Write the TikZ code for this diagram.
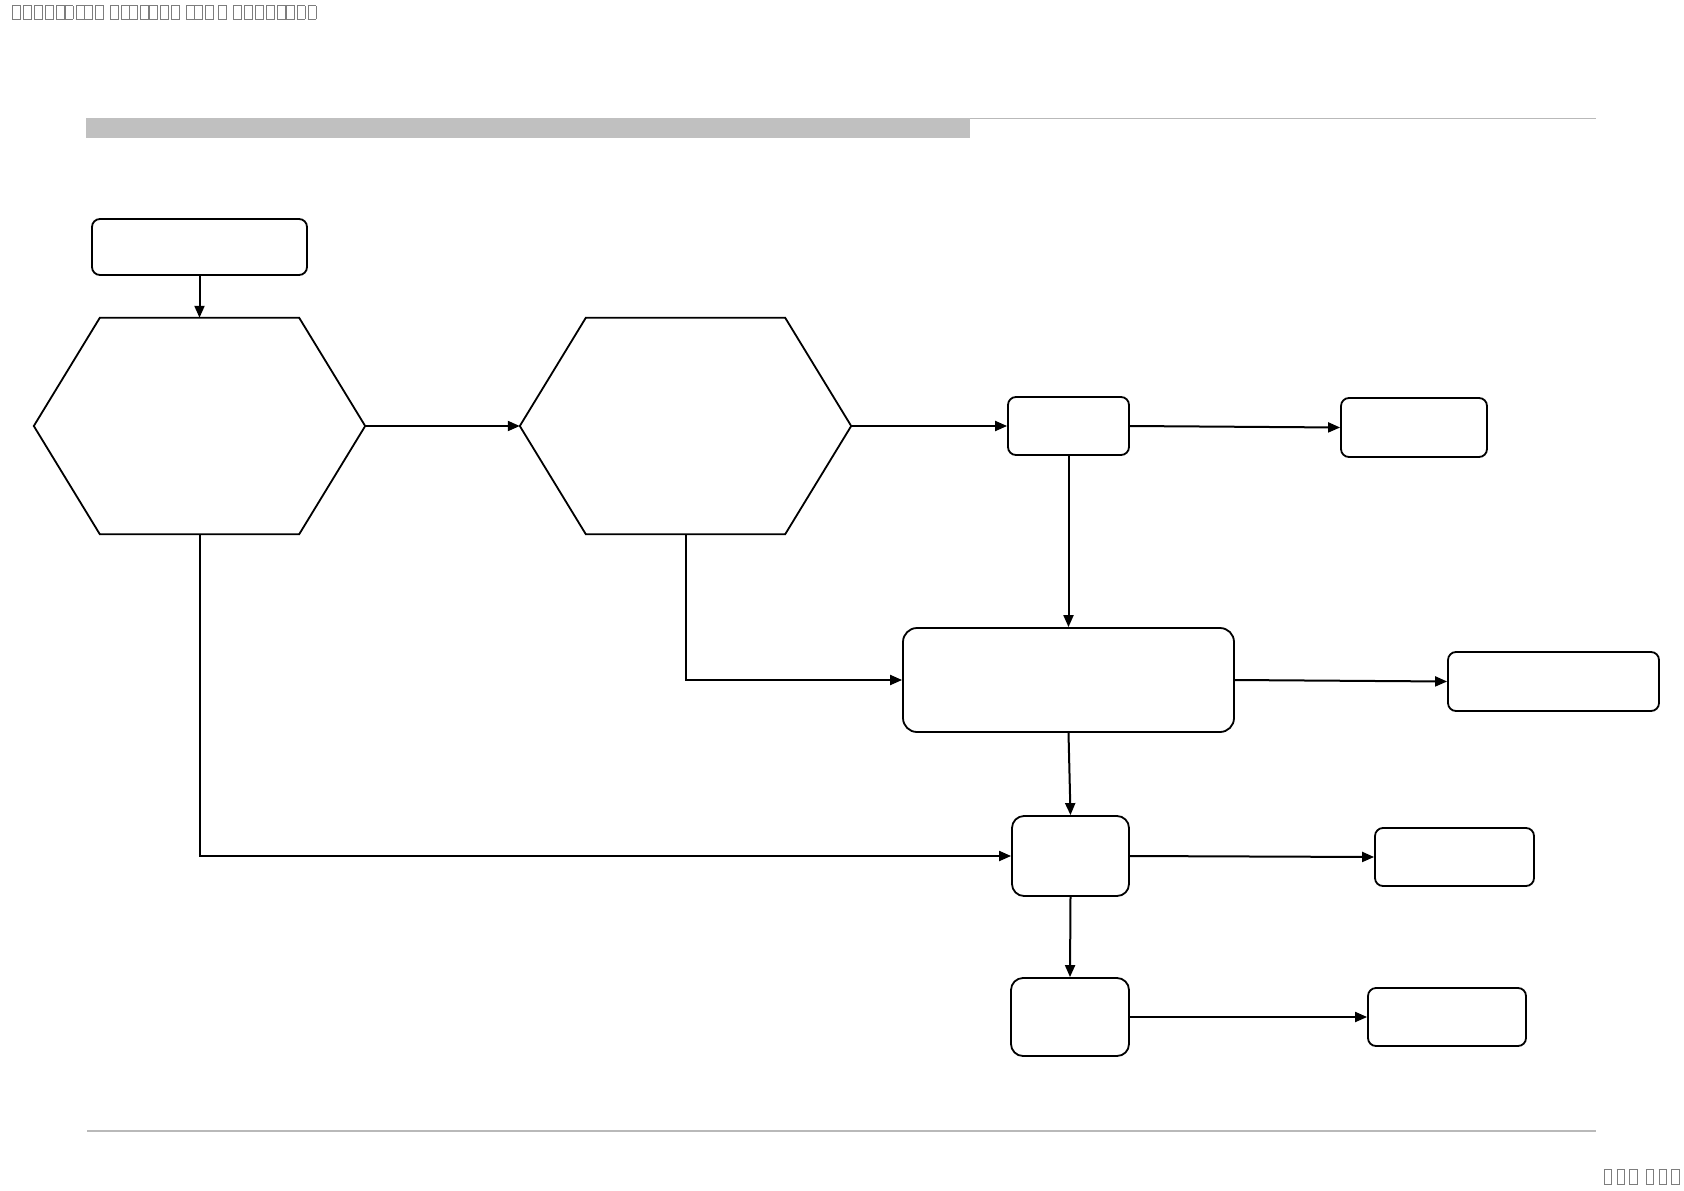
\documentclass[tikz,border=0pt]{standalone}
\usetikzlibrary{arrows.meta,calc}
\definecolor{barg}{RGB}{192,192,192}
\definecolor{lineg}{RGB}{185,185,185}
\definecolor{tofug}{RGB}{125,125,125}
\setlength{\fboxsep}{0pt}
\setlength{\fboxrule}{0.9pt}
\newcommand\tofu{\kern1.1pt\fbox{\rule{0pt}{12.5pt}\rule{7pt}{0pt}}\kern1.1pt}
\newcommand\tofuo{\kern-2.6pt\tofu}
\newcommand\tofub{\kern2.2pt\fbox{\rule{0pt}{13.5pt}\rule{6.5pt}{0pt}}\kern2.2pt}
\tikzset{
  box/.style={draw, line width=1.8pt, rounded corners=8pt, inner sep=0pt, fill=white},
  hexbox/.style={inner sep=0pt, minimum width=331pt, minimum height=216pt},
  conn/.style={line width=2pt, -{Triangle[length=12pt,width=10pt]}},
  tofutext/.style={inner sep=0pt, text=tofug, font=\normalsize}
}
\begin{document}
\begin{tikzpicture}[x=1pt,y=-1pt]
\useasboundingbox (0,0) rectangle (1684,1191);
% header decoration
\fill[barg] (86,118) rectangle (970,138);
\draw[lineg, line width=1.6pt] (970,118.5) -- (1596,118.5);
\draw[lineg, line width=1.2pt] (87,1131) -- (1596,1131);
\node[tofutext, anchor=north west] (hdr) at (11,5)
  {\tofu\tofu\tofu\tofu\tofu\tofuo\tofu\tofuo\tofu\hspace{4pt}%
   \tofu\tofu\tofuo\tofu\tofuo\tofu\tofu\hspace{4pt}%
   \tofu\tofuo\tofu\hspace{2pt}\tofu\hspace{4pt}%
   \tofu\tofu\tofu\tofu\tofu\tofuo\tofu\tofu};
\node[tofutext, anchor=north east] (ftr) at (1682,1169)
  {\tofub\tofub\tofub\hspace{4pt}\tofub\tofub\tofub};
% hexagons
\node[hexbox] (hexA) at (199.5,426) {};
\node[hexbox] (hexB) at (685.5,426) {};
\foreach \h in {hexA,hexB}{
  \draw[line width=1.8pt]
    (\h.west) -- ($(\h.north west)+(66,0)$) -- ($(\h.north east)+(-66,0)$) --
    (\h.east) -- ($(\h.south east)+(-66,0)$) -- ($(\h.south west)+(66,0)$) -- cycle;
}
% boxes
\node[box, minimum width=215pt, minimum height=56pt] (n1) at (199.5,247) {};
\node[box, minimum width=121pt, minimum height=58pt] (A) at (1068.5,426) {};
\node[box, minimum width=146pt, minimum height=59pt] (B) at (1414,427.5) {};
\node[box, minimum width=331pt, minimum height=104pt, rounded corners=14pt] (C) at (1068.5,680) {};
\node[box, minimum width=211pt, minimum height=59pt] (D) at (1553.5,681.5) {};
\node[box, minimum width=117pt, minimum height=80pt, rounded corners=12pt] (E) at (1070.5,856) {};
\node[box, minimum width=159pt, minimum height=58pt] (F) at (1454.5,857) {};
\node[box, minimum width=118pt, minimum height=78pt, rounded corners=12pt] (G) at (1070,1017) {};
\node[box, minimum width=158pt, minimum height=58pt] (H) at (1447,1017) {};
% connectors
\draw[conn] (n1.south) -- (hexA.north);
\draw[conn] (hexA.east) -- (hexB.west);
\draw[conn] (hexB.east) -- (A.west);
\draw[conn] (A.east) -- (B.west);
\draw[conn] (A.south) -- (C.north);
\draw[conn] (hexB.south) |- (C.west);
\draw[conn] (C.east) -- (D.west);
\draw[conn] (C.south) -- (E.north);
\draw[conn] (hexA.south) |- (E.west);
\draw[conn] (E.east) -- (F.west);
\draw[conn] (E.south) -- (G.north);
\draw[conn] (G.east) -- (H.west);
\end{tikzpicture}
\end{document}
